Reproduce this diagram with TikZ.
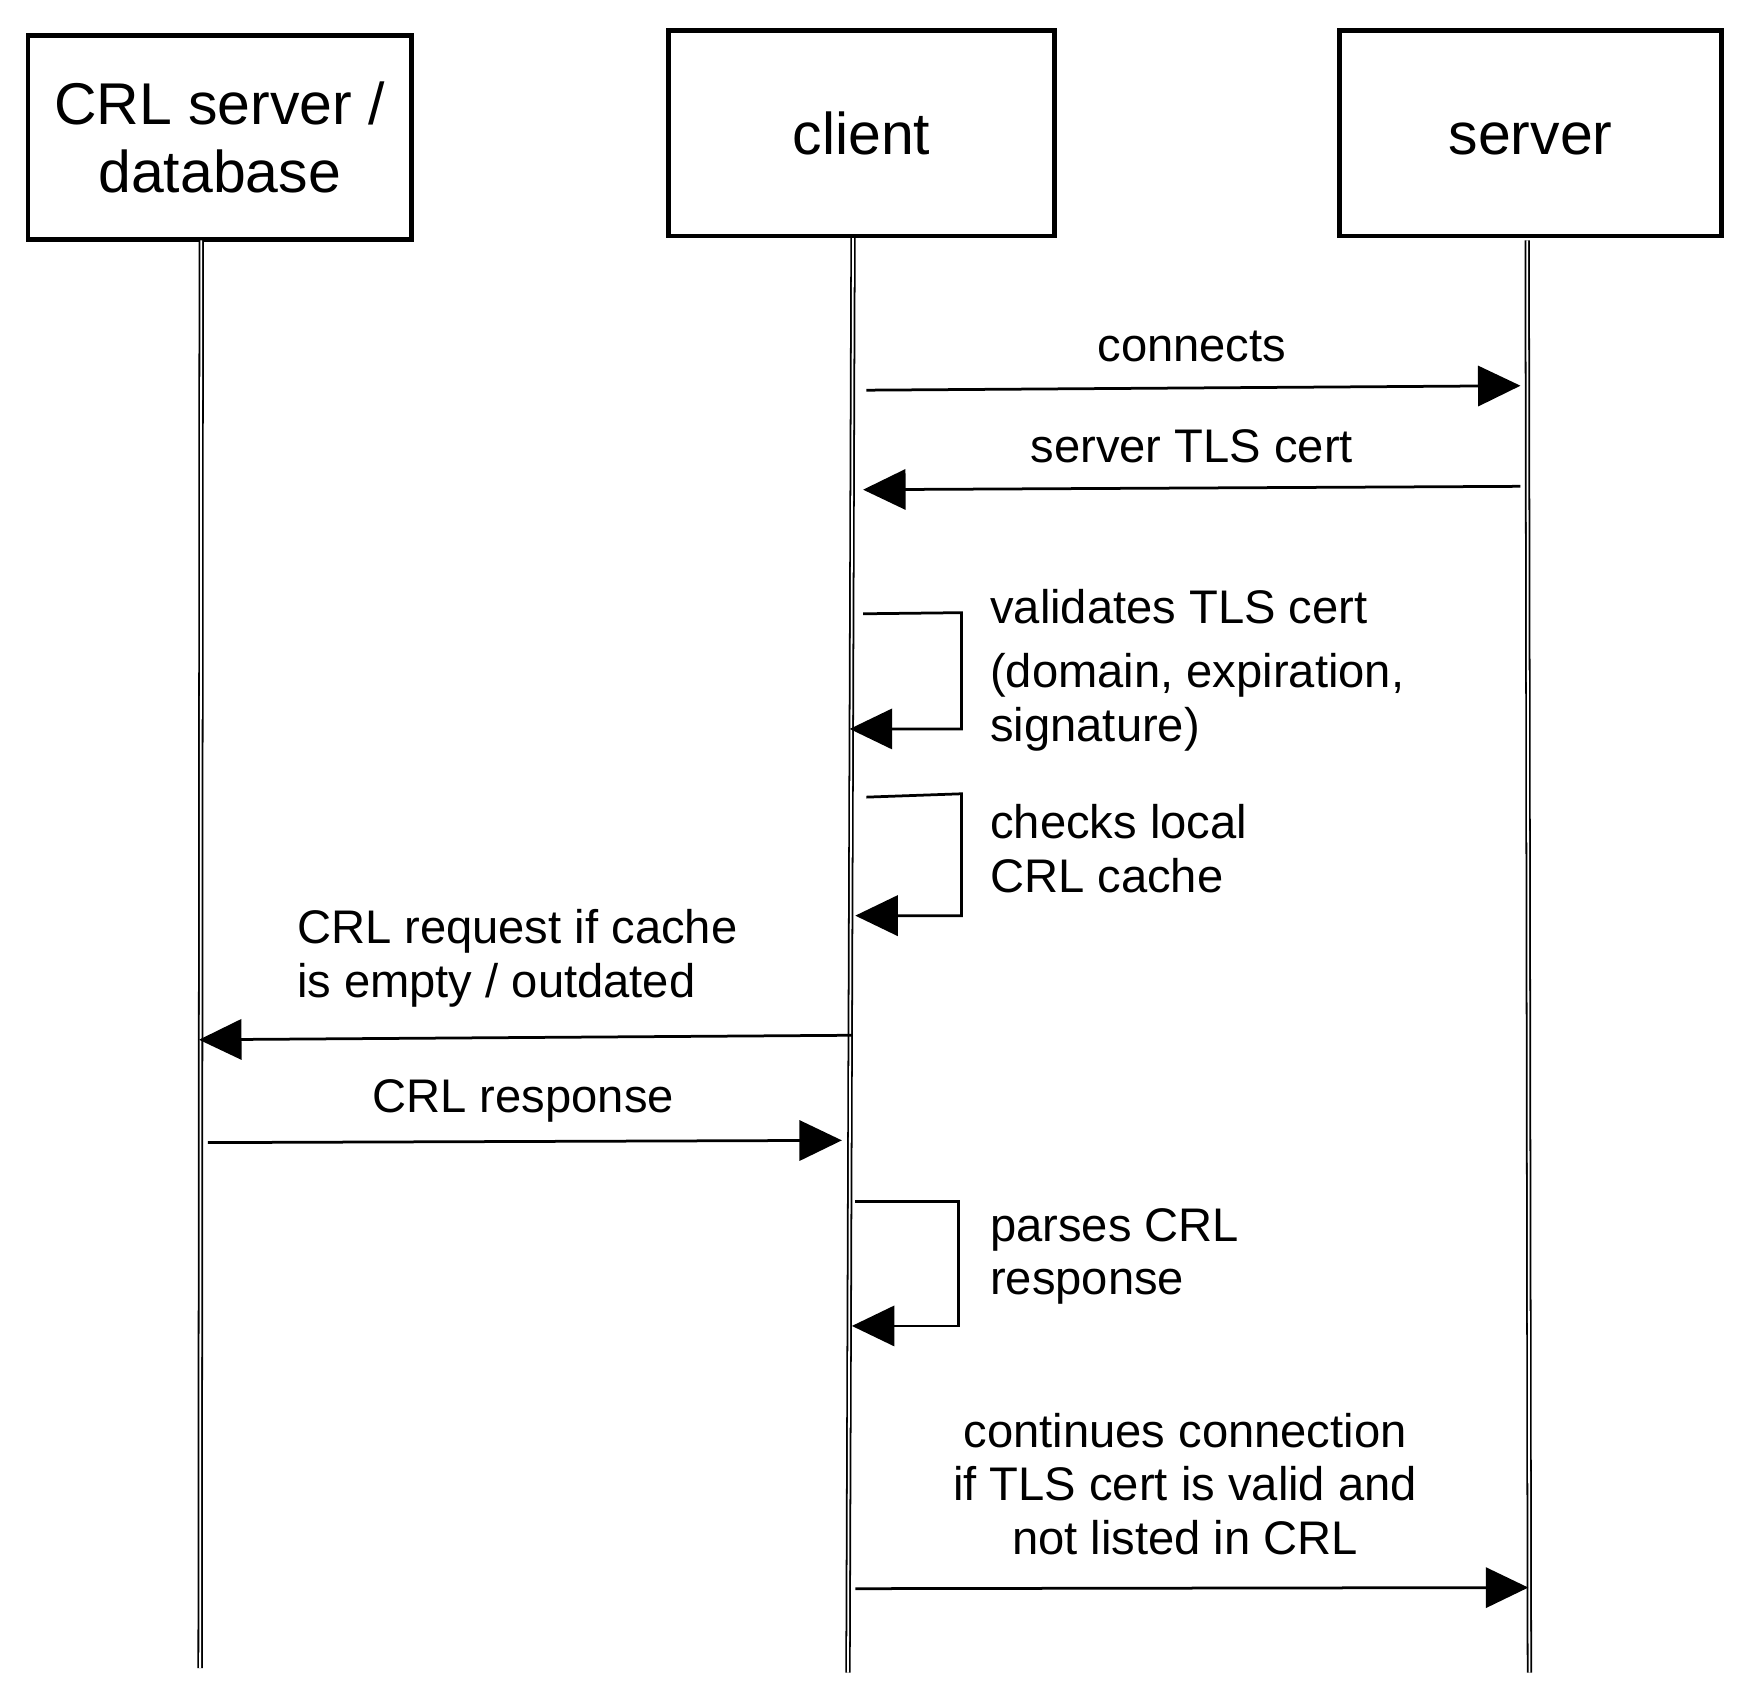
\documentclass[tikz,border=0pt]{standalone}
\usepackage{fontspec}
\setmainfont{Liberation Sans}
\usetikzlibrary{arrows.meta}
\tikzset{
  actor/.style={draw, line width=1.2pt, minimum width=3.43cm, minimum height=1.82cm,
    align=center, font=\fontsize{15}{17.3}\selectfont},
  lifeline/.style={draw, double, double distance=0.45pt, line width=0.45pt},
  msg/.style={line width=0.7pt, -{Triangle[length=3.8mm, width=3.6mm]}},
  lbl/.style={inner sep=0pt, font=\fontsize{12}{13.6}\selectfont},
}
\begin{document}
\begin{tikzpicture}
    \useasboundingbox (0,0) rectangle (15.68,-15.24);

    % Define participants
    \node[actor] (crl) at (1.965,-1.23) {CRL server /\\database};
    \node[actor, minimum width=3.45cm, minimum height=1.84cm, text height=11pt, text depth=0pt] (client) at (7.705,-1.19) {client};
    \node[actor, minimum width=3.42cm, minimum height=1.84cm, text height=11pt, text depth=0pt] (server) at (13.69,-1.19) {server};

    % Define lifelines
    \coordinate (crlT) at (1.80,-2.15);
    \coordinate (crlB) at (1.79,-14.92);
    \coordinate (cliT) at (7.63,-2.13);
    \coordinate (cliB) at (7.585,-14.96);
    \coordinate (srvT) at (13.66,-2.15);
    \coordinate (srvB) at (13.68,-14.96);

    % Draw lifelines
    \draw[lifeline] (crlT) -- (crlB);
    \draw[lifeline] (cliT) -- (cliB);
    \draw[lifeline] (srvT) -- (srvB);

    % Define message ends
    \coordinate (m1a) at (7.75,-3.49);
    \coordinate (m1b) at (13.60,-3.45);
    \coordinate (m2a) at (13.60,-4.35);
    \coordinate (m2b) at (7.72,-4.38);
    \coordinate (m3a) at (7.62,-9.26);
    \coordinate (m3b) at (1.78,-9.30);
    \coordinate (m4a) at (1.86,-10.22);
    \coordinate (m4b) at (7.53,-10.20);
    \coordinate (m5a) at (7.65,-14.21);
    \coordinate (m5b) at (13.67,-14.20);

    % Draw messages
    \draw[msg] (m1a) -- (m1b);
    \node[lbl, anchor=base] (connects) at (10.66,-3.23) {connects};
    \draw[msg] (m2a) -- (m2b);
    \node[lbl, anchor=base] (cert) at (10.66,-4.14) {server TLS cert};
    \draw[msg] (m3a) -- (m3b);
    \node[lbl, anchor=base west, align=left] (request) at (2.65,-8.92) {CRL request if cache\\is empty / outdated};
    \draw[msg] (m4a) -- (m4b);
    \node[lbl, anchor=base] (response) at (4.68,-9.95) {CRL response};
    \draw[msg] (m5a) -- (m5b);
    \node[lbl, anchor=base, align=center] (continues) at (10.60,-13.90) {continues connection\\if TLS cert is valid and\\not listed in CRL};

    % Define self calls
    \coordinate (v1) at (7.72,-5.49);
    \coordinate (v2) at (8.60,-5.48);
    \coordinate (v3) at (8.60,-6.52);
    \coordinate (v4) at (7.60,-6.52);
    \coordinate (k1) at (7.75,-7.13);
    \coordinate (k2) at (8.60,-7.10);
    \coordinate (k3) at (8.60,-8.19);
    \coordinate (k4) at (7.65,-8.19);
    \coordinate (p1) at (7.65,-10.75);
    \coordinate (p2) at (8.57,-10.75);
    \coordinate (p3) at (8.57,-11.86);
    \coordinate (p4) at (7.62,-11.86);

    % Draw self calls
    \draw[msg] (v1) -- (v2) -- (v3) -- (v4);
    \node[lbl, anchor=base west, align=left] (validates) at (8.85,-6.63) {validates TLS cert\\[2.8pt](domain, expiration,\\signature)};
    \draw[msg] (k1) -- (k2) -- (k3) -- (k4);
    \node[lbl, anchor=base west, align=left] (checks) at (8.85,-7.98) {checks local\\CRL cache};
    \draw[msg] (p1) -- (p2) -- (p3) -- (p4);
    \node[lbl, anchor=base west, align=left] (parses) at (8.85,-11.58) {parses CRL\\response};
\end{tikzpicture}
\end{document}
